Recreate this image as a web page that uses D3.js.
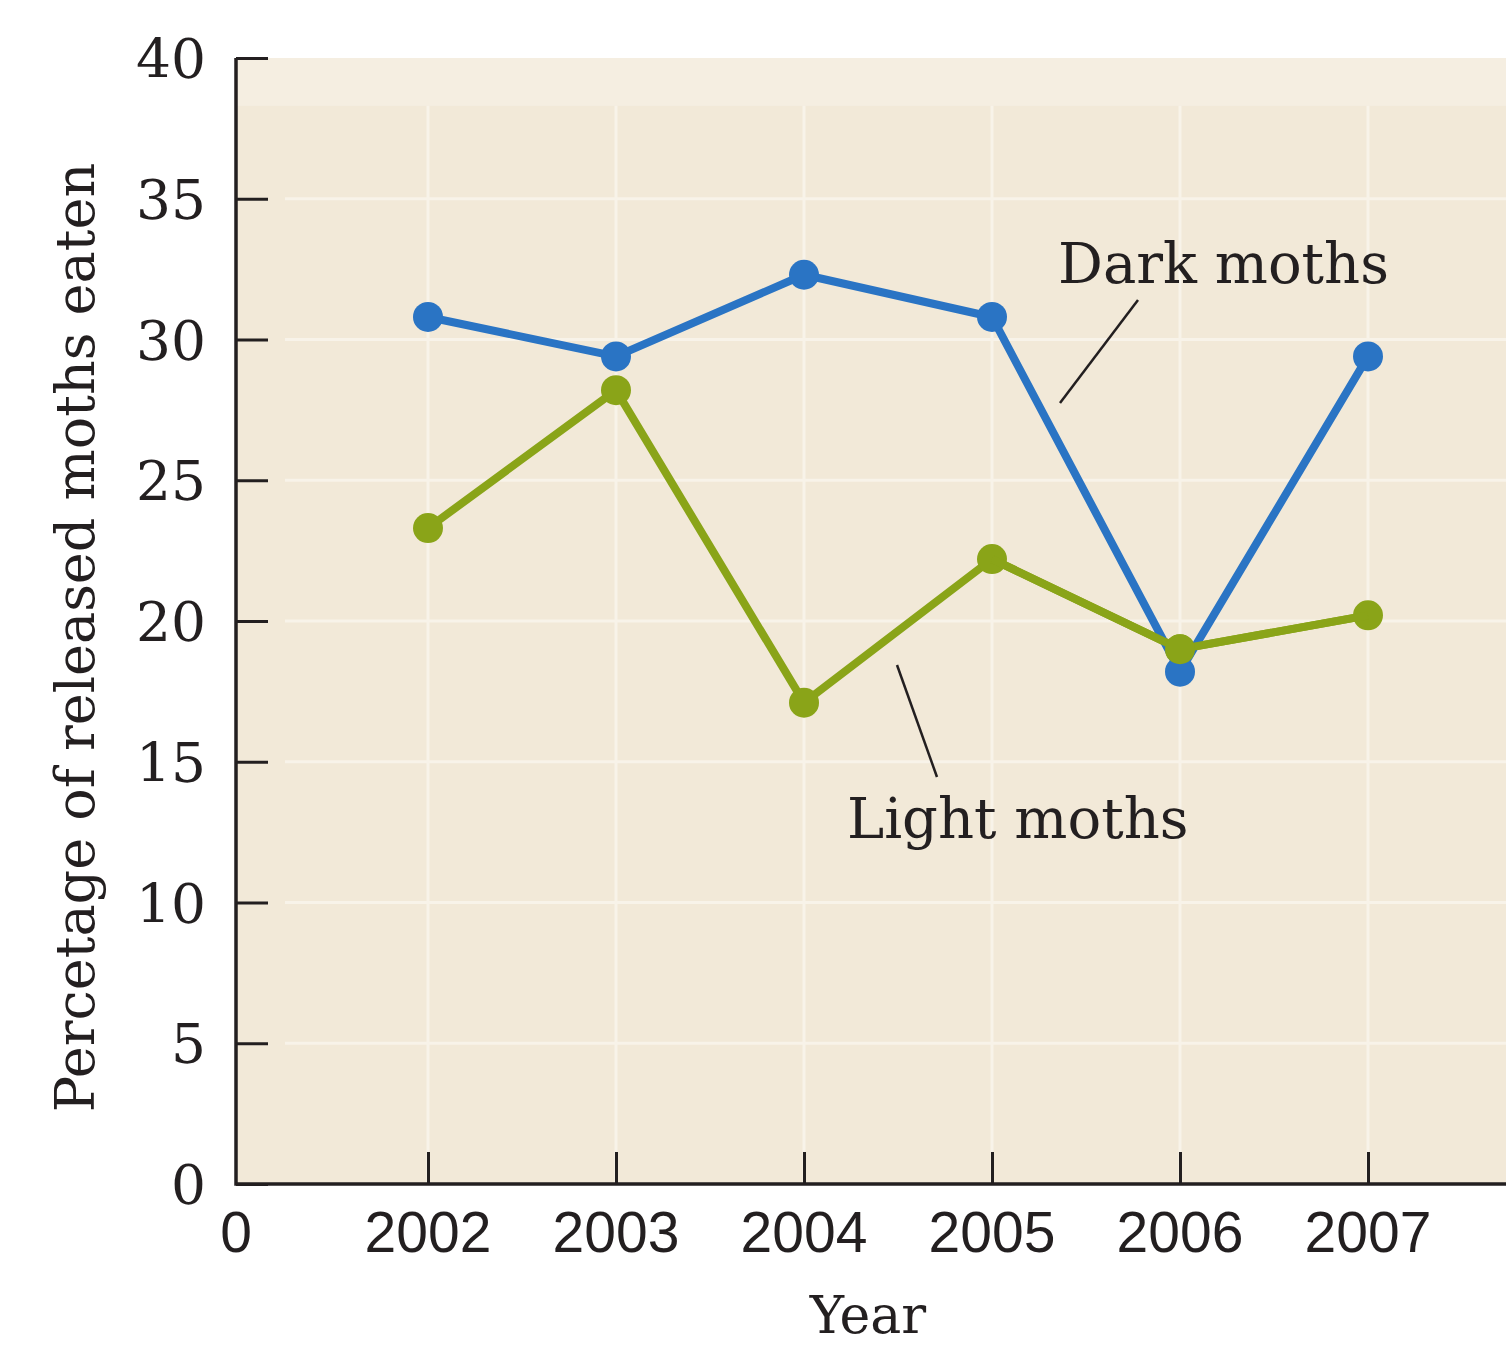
<!DOCTYPE html>
<html>
<head>
<meta charset="utf-8">
<script src="https://cdn.jsdelivr.net/npm/d3@7"></script>
<style>
  html, body { margin: 0; padding: 0; background: #ffffff; }
  svg { display: block; }
</style>
</head>
<body>
<div id="chart"></div>
<script>
// Moth predation by year
const years = [2002, 2003, 2004, 2005, 2006, 2007];
const darkMoths = [30.8, 29.4, 32.3, 30.8, 18.2, 29.4];
const lightMoths = [23.3, 28.2, 17.1, 22.2, 19.0, 20.2];
const yTicks = [0, 5, 10, 15, 20, 25, 30, 35, 40];
const seriesNames = ["Dark moths", "Light moths"];

const W = 1506, H = 1346;
const svg = d3.select("#chart").append("svg")
  .attr("width", W).attr("height", H);

const serif = "'DejaVu Serif', 'Liberation Serif', serif";
const sans = "'Liberation Sans', Arial, sans-serif";

const plotLeft = 236, plotRight = 1506, plotTop = 58, plotBottom = 1184;

const x = d3.scaleLinear().domain([2001, 2007]).range([240, 1368]);
const y = d3.scaleLinear().domain([0, 40]).range([plotBottom, plotTop]);

// plot background
svg.append("rect")
  .attr("x", plotLeft).attr("y", plotTop)
  .attr("width", plotRight - plotLeft).attr("height", plotBottom - plotTop)
  .attr("fill", "#f2e9d8");
svg.append("rect")
  .attr("x", plotLeft).attr("y", plotTop)
  .attr("width", plotRight - plotLeft).attr("height", y(38.3) - plotTop)
  .attr("fill", "#f5eee1");

// faint white grid
const grid = svg.append("g").attr("stroke", "#faf5ec").attr("stroke-width", 3).attr("opacity", 0.85);
grid.selectAll("line.h").data(yTicks.filter(d => d > 0 && d < 40)).join("line")
  .attr("x1", 285).attr("x2", plotRight)
  .attr("y1", d => y(d)).attr("y2", d => y(d));
grid.selectAll("line.v").data(years).join("line")
  .attr("x1", d => x(d)).attr("x2", d => x(d))
  .attr("y1", y(38.3)).attr("y2", plotBottom);

// axes
const yAxis = d3.axisRight(y).tickValues(yTicks).tickSize(32).tickFormat("");
const gy = svg.append("g").attr("transform", `translate(${plotLeft},0)`).call(yAxis);
gy.select(".domain").remove();
gy.selectAll(".tick line").attr("stroke", "#231f20").attr("stroke-width", 3);

const xAxis = d3.axisTop(x).tickValues(years).tickSize(32).tickFormat("");
const gx = svg.append("g").attr("transform", `translate(0,${plotBottom})`).call(xAxis);
gx.select(".domain").remove();
gx.selectAll(".tick line").attr("stroke", "#231f20").attr("stroke-width", 3);

svg.append("path")
  .attr("d", `M${plotLeft},${plotTop}V${plotBottom}H${plotRight}`)
  .attr("fill", "none").attr("stroke", "#231f20").attr("stroke-width", 3.5);

// y tick labels
svg.append("g").selectAll("text").data(yTicks).join("text")
  .attr("x", 206).attr("y", d => y(d) + 20)
  .attr("text-anchor", "end")
  .attr("font-family", serif).attr("font-size", 55).attr("fill", "#231f20")
  .text(d => d);

// x tick labels
svg.append("g").selectAll("text").data(years).join("text")
  .attr("x", d => x(d)).attr("y", 1252)
  .attr("text-anchor", "middle")
  .attr("font-family", sans).attr("font-size", 57).attr("fill", "#231f20")
  .text(d => d);
svg.append("text")
  .attr("x", plotLeft).attr("y", 1252)
  .attr("text-anchor", "middle")
  .attr("font-family", sans).attr("font-size", 57).attr("fill", "#231f20")
  .text("0");

// axis titles
svg.append("text")
  .attr("transform", `translate(94,${(165 + 1110) / 2}) rotate(-90)`)
  .attr("text-anchor", "middle")
  .attr("font-family", serif).attr("font-size", 54).attr("fill", "#231f20")
  .text("Percetage of released moths eaten");
svg.append("text")
  .attr("x", 868).attr("y", 1333)
  .attr("text-anchor", "middle")
  .attr("font-family", serif).attr("font-size", 52).attr("fill", "#231f20")
  .text("Year");

// series
const line = d3.line().x(d => x(d[0])).y(d => y(d[1]));
const series = [
  { name: seriesNames[1], values: lightMoths, color: "#8aa418" },
  { name: seriesNames[0], values: darkMoths, color: "#2a74c4" }
];
series.forEach(s => {
  const pts = years.map((yr, i) => [yr, s.values[i]]);
  svg.append("path").datum(pts)
    .attr("d", line).attr("fill", "none")
    .attr("stroke", s.color).attr("stroke-width", 8)
    .attr("stroke-linejoin", "round");
  svg.append("g").selectAll("circle").data(pts).join("circle")
    .attr("cx", d => x(d[0])).attr("cy", d => y(d[1]))
    .attr("r", 15).attr("fill", s.color);
});
// light series drawn over the dark one where they meet in 2006
svg.append("path")
  .datum(years.slice(3).map((yr, i) => [yr, lightMoths[i + 3]]))
  .attr("d", line).attr("fill", "none")
  .attr("stroke", "#8aa418").attr("stroke-width", 8);
svg.append("circle")
  .attr("cx", x(years[4])).attr("cy", y(lightMoths[4]))
  .attr("r", 15).attr("fill", "#8aa418");

// series labels with leader lines
svg.append("text")
  .attr("x", 1058).attr("y", 283)
  .attr("font-family", serif).attr("font-size", 56).attr("fill", "#231f20")
  .text(seriesNames[0]);
svg.append("line")
  .attr("x1", 1138).attr("y1", 300).attr("x2", 1060).attr("y2", 403)
  .attr("stroke", "#231f20").attr("stroke-width", 2.5);

svg.append("text")
  .attr("x", 847).attr("y", 838)
  .attr("font-family", serif).attr("font-size", 56).attr("fill", "#231f20")
  .text(seriesNames[1]);
svg.append("line")
  .attr("x1", 897).attr("y1", 665).attr("x2", 937).attr("y2", 777)
  .attr("stroke", "#231f20").attr("stroke-width", 2.5);
</script>
</body>
</html>
